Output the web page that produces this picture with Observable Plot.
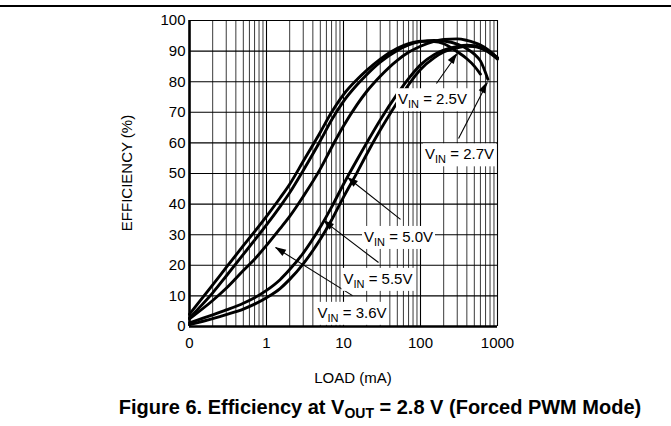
<!DOCTYPE html>
<html>
<head>
<meta charset="utf-8">
<script src="https://cdn.jsdelivr.net/npm/d3@7"></script>
<script src="https://cdn.jsdelivr.net/npm/@observablehq/plot@0.6"></script>
<style>
  body { margin: 0; background: #fff; font-family: "Liberation Sans", Arial, sans-serif; color: #000; }
  #wrap { position: relative; width: 671px; height: 426px; overflow: hidden; background: #fff; }
  #topline { position: absolute; left: 0; top: 5px; width: 671px; height: 1.5px; background: #000; }
  #xlabel { position: absolute; left: 253px; width: 200px; top: 369px; text-align: center; font-size: 15px; line-height: 18px; }
  #ylabel { position: absolute; left: 27px; width: 200px; top: 164px; text-align: center; font-size: 15px; line-height: 18px; transform: rotate(-90deg); }
  #title { position: absolute; left: 0; width: 760px; top: 395px; text-align: center; font-size: 20px; font-weight: bold; line-height: 24px; white-space: nowrap; }
  #title sub { font-size: 70%; vertical-align: -0.3em; line-height: 0; }
</style>
</head>
<body>
<div id="wrap">
  <div id="topline"></div>
  <div id="xlabel">LOAD (mA)</div>
  <div id="ylabel">EFFICIENCY (%)</div>
  <div id="title">Figure 6. Efficiency at V<sub>OUT</sub> = 2.8 V (Forced PWM Mode)</div>
</div>
<script>
// ---- data ----
const loads = [0.1, 0.2, 0.3, 0.5, 0.7, 1, 1.5, 2, 3, 5, 7, 10, 15, 20, 30, 50, 70, 100, 150, 200, 300, 400, 500, 600, 750, 1000];
const eff25 = [4, 13.6, 19.3, 26.4, 31, 36, 42, 46.5, 54, 63.5, 70, 75.8, 80.7, 83.7, 87.4, 90.9, 92.4, 93.2, 93.1, 92.4, 89.8, 87.5, 85.1, 82.5, null, null];
const eff27 = [2.8, 11, 16.5, 23.6, 28.2, 33.2, 39.2, 43.7, 51, 60.7, 67.5, 73.6, 79, 82.3, 86.4, 90.2, 92, 93.1, 93.5, 93.3, 92.3, 90.8, 89, 86.8, 80.8, null];
const eff36 = [2.5, 8.5, 12.5, 18.3, 22, 26.5, 32, 36, 42.5, 51.5, 58.5, 65.5, 72.5, 76.8, 81.8, 87, 89.6, 91.6, 93.2, 93.8, 94, 93.5, 92.8, 92, 90.5, 87.8];
const eff50 = [1.2, 3.8, 5.4, 7.6, 9.4, 11.8, 15.3, 18.6, 24, 32.5, 39, 46.5, 54.5, 60, 67.5, 76, 81, 85.5, 88.8, 90.3, 91.5, 91.9, 91.8, 91.2, 90.1, 87.8];
const eff55 = [0.6, 2.6, 3.9, 5.7, 7.3, 9.4, 12.4, 15.4, 20.5, 28.5, 34.8, 42.3, 50.3, 56.3, 64.2, 73.3, 79, 84, 87.8, 89.7, 91.1, 91.6, 91.5, 91, 89.8, 87.4];

const seriesNames = ["2.5V", "2.7V", "3.6V", "5.0V", "5.5V"];
const seriesValues = [eff25, eff27, eff36, eff50, eff55];

const xTicks = [0.1, 1, 10, 100, 1000];
const xTickLabels = ["0", "1", "10", "100", "1000"];
const yTicks = [0, 10, 20, 30, 40, 50, 60, 70, 80, 90, 100];

// annotation labels (series, label centre, arrow tail, arrow tip) in data units
const annoSeries = ["2.5V", "2.7V", "5.0V", "5.5V", "3.6V"];
const annoLabelX = [143, 321, 51.8, 28, 12.9];
const annoLabelY = [74.2, 56.2, 29.2, 15.5, 4.4];
const annoTailX = [161, 312, 55, 28.5, 13.1];
const annoTailY = [79.4, 61.4, 35, 20.9, 10.1];
const annoTipX = [303, 741, 11.3, 5.5, 1.31];
const annoTipY = [89.2, 79.7, 48.7, 34.6, 25.8];

// ---- build tables ----
const rows = [];
seriesNames.forEach((s, k) => {
  seriesValues[k].forEach((v, i) => {
    if (v != null) rows.push({series: s, load: loads[i], eff: v});
  });
});
const annotations = annoSeries.map((s, i) => ({
  label: "VIN = " + s,
  lx: annoLabelX[i], ly: annoLabelY[i],
  tx: annoTailX[i], ty: annoTailY[i],
  px: annoTipX[i], py: annoTipY[i]
}));

const decades = [0.1, 1, 10, 100];
const xMinor = decades.flatMap(d => [2, 3, 4, 5, 6, 7, 8, 9].map(k => k * d));
const xMajor = xTicks;

const W = 671, H = 360;
const plot = Plot.plot({
  width: W,
  height: H,
  marginLeft: 189,
  marginRight: W - 497,
  marginTop: 20,
  marginBottom: H - 326,
  x: {type: "log", domain: [0.1, 1000]},
  y: {domain: [0, 100]},
  style: {fontFamily: "'Liberation Sans', Arial, sans-serif", fontSize: "15px", background: "white", color: "black", overflow: "visible"},
  marks: [
    Plot.ruleX(xMinor, {stroke: "#3a3a3a", strokeWidth: 1}),
    Plot.ruleX(xMajor, {stroke: "#000", strokeWidth: 1.1}),
    Plot.ruleY(yTicks, {stroke: "#000", strokeWidth: 1.1}),
    Plot.ruleX([0.1], {stroke: "#000", strokeWidth: 2.6}),
    Plot.ruleY([0], {stroke: "#000", strokeWidth: 2.6}),
    Plot.axisX({ticks: xTicks, tickFormat: d => xTickLabels[xTicks.indexOf(d)], tickSize: 0, tickPadding: 11, label: null}),
    Plot.axisY({ticks: yTicks, tickSize: 0, tickPadding: 4, label: null}),
    Plot.line(rows, {x: "load", y: "eff", z: "series", stroke: "#000", strokeWidth: 2.9, curve: "monotone-x"}),
    Plot.link(annotations, {x1: "tx", y1: "ty", x2: "px", y2: "py", stroke: "#000", strokeWidth: 1.1}),
    Plot.text(annotations, {x: "lx", y: "ly", text: "label", fill: "#000", fontSize: 15, textAnchor: "middle"})
  ]
});
const wrap = document.getElementById("wrap");
wrap.insertBefore(plot, wrap.firstChild);

// subscripts and white label boxes
d3.select(plot).selectAll("text")
  .filter(function () { return this.textContent.startsWith("VIN"); })
  .each(function () {
    const t = this;
    const rest = t.textContent.slice(3);
    t.textContent = "";
    const sel = d3.select(t);
    sel.append("tspan").text("V");
    sel.append("tspan").attr("font-size", "11px").attr("dy", "4").text("IN");
    sel.append("tspan").attr("dy", "-4").text(rest);
    const b = t.getBBox();
    const r = document.createElementNS("http://www.w3.org/2000/svg", "rect");
    const tr = t.getAttribute("transform");
    if (tr) r.setAttribute("transform", tr);
    r.setAttribute("x", b.x - 2);
    r.setAttribute("y", b.y - 2);
    r.setAttribute("width", b.width + 4);
    r.setAttribute("height", b.height + 3);
    r.setAttribute("fill", "white");
    r.setAttribute("stroke", "none");
    t.parentNode.insertBefore(r, t);
  });

// filled arrow heads, positioned through Plot's scales
const sx = plot.scale("x"), sy = plot.scale("y");
const heads = d3.select(plot).append("g");
annotations.forEach(a => {
  const x1 = sx.apply(a.tx), y1 = sy.apply(a.ty), x2 = sx.apply(a.px), y2 = sy.apply(a.py);
  const dx = x2 - x1, dy = y2 - y1, L = Math.hypot(dx, dy), ux = dx / L, uy = dy / L;
  const hl = 11, hw = 3.6;
  const pts = [[x2, y2], [x2 - hl * ux - hw * uy, y2 - hl * uy + hw * ux], [x2 - hl * ux + hw * uy, y2 - hl * uy - hw * ux]];
  heads.append("polygon").attr("points", pts.map(p => p.join(",")).join(" ")).attr("fill", "#000");
});
</script>
</body>
</html>
